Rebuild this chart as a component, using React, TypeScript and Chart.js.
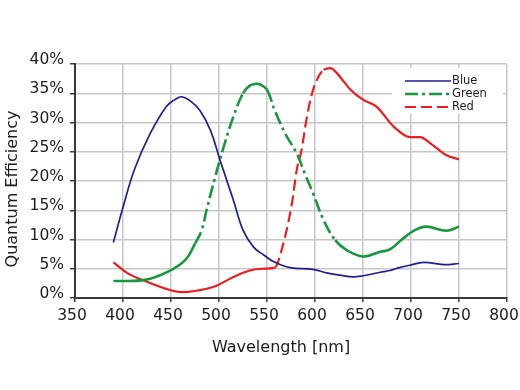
import React, { useEffect, useRef } from "react";
import { Chart, registerables } from "chart.js";

Chart.register(...registerables);

// Wavelength [nm] and quantum efficiency [%] per channel
const blueNm = [390, 400, 412, 428, 445, 455, 461, 470, 480, 491, 501, 515, 525, 536, 547, 557, 574, 598, 612, 626, 640, 650, 668, 678, 688, 699, 713, 734, 750];
const blueQe = [9.5, 15.5, 22, 28, 32.7, 34.0, 34.4, 33.7, 32.1, 28.7, 23.6, 16.7, 11.6, 8.7, 7.3, 6.2, 5.2, 4.9, 4.3, 3.9, 3.6, 3.8, 4.4, 4.7, 5.2, 5.6, 6.1, 5.7, 5.9];

const greenNm = [390, 423, 447, 465, 475, 482, 487, 496, 505, 515, 525, 532, 538, 543, 550, 558, 569, 581, 590, 598, 609, 621, 633, 650, 668, 678, 692, 704, 716, 737, 750];
const greenQe = [2.9, 3.1, 4.5, 6.5, 9.3, 11.6, 15.0, 20.7, 25.9, 31.0, 35.0, 36.3, 36.6, 36.5, 35.6, 32.1, 28.1, 24.7, 21.0, 17.9, 13.3, 9.9, 8.2, 7.1, 7.9, 8.3, 10.2, 11.6, 12.2, 11.5, 12.2];

const redNm = [390, 405, 423, 444, 461, 475, 496, 515, 532, 545, 558, 567, 576, 581, 586, 591, 596, 602, 609, 616, 623, 630, 637, 650, 664, 682, 699, 709, 723, 737, 750];
const redQe = [6.1, 4.2, 2.9, 1.6, 1.0, 1.2, 2.0, 3.6, 4.7, 5.0, 5.2, 9.3, 16.2, 21.9, 25.3, 30.4, 34.4, 37.3, 39.0, 39.3, 38.4, 37.0, 35.6, 33.9, 32.7, 29.3, 27.5, 27.5, 26.1, 24.4, 23.7];

const seriesLabels = ["Blue", "Green", "Red"];
const xTitle = "Wavelength [nm]";
const yTitle = "Quantum Efficiency";

// ranges (nm) in which the dashed curves are drawn dashed
const greenDashRanges = [[475, 525], [550, 621]];
const redDashRanges = [[558, 609]];

const FONT = "'DejaVu Sans', Verdana, sans-serif";
const TEXT = "#1c1c1c";

const toPts = (xs: number[], ys: number[]) => xs.map((x, i) => ({ x, y: ys[i] }));

const overlay = {
  id: "overlay",
  afterDatasetsDraw(chart: any) {
    const ctx = chart.ctx as CanvasRenderingContext2D;
    const a = chart.chartArea;
    ctx.save();
    // legend box inside the plot, top right
    const lx = a.right - 115;
    const ly = a.top + 4;
    ctx.fillStyle = "#ffffff";
    ctx.fillRect(lx, ly, 111, 46);
    chart.data.datasets.forEach((ds: any, i: number) => {
      const y = ly + 13 + i * 13;
      ctx.strokeStyle = ds.borderColor;
      ctx.lineWidth = ds.borderWidth;
      ctx.setLineDash(ds.borderDash || []);
      ctx.beginPath();
      ctx.moveTo(lx + 13, y);
      ctx.lineTo(lx + 59, y);
      ctx.stroke();
      ctx.setLineDash([]);
      ctx.fillStyle = TEXT;
      ctx.font = `11.5px ${FONT}`;
      ctx.textBaseline = "middle";
      ctx.textAlign = "left";
      ctx.fillText(ds.label, lx + 60, y + 0.5);
    });
    // axis titles
    ctx.fillStyle = TEXT;
    ctx.font = `16px ${FONT}`;
    ctx.textAlign = "center";
    ctx.textBaseline = "alphabetic";
    ctx.fillText(xTitle, a.left + (a.right - a.left) * 0.477, a.bottom + 54);
    ctx.save();
    ctx.translate(17, (a.top + a.bottom) / 2 + 8);
    ctx.rotate(-Math.PI / 2);
    ctx.fillText(yTitle, 0, 0);
    ctx.restore();
    ctx.restore();
  },
};

export default function App() {
  const ref = useRef<HTMLCanvasElement>(null);

  useEffect(() => {
    const inRanges = (rs: number[][]) => (c: any) =>
      rs.some((r) => c.p0.parsed.x >= r[0] && c.p0.parsed.x < r[1]) ? undefined : [];
    const grid = {
      color: "#c6c6cb",
      lineWidth: 1.5,
      tickColor: "#3a3a3a",
      tickWidth: 1.5,
      tickLength: 4,
    };
    const border = { color: "#3a3a3a", width: 2 };
    const chart = new Chart(ref.current!, {
      type: "line",
      data: {
        datasets: [
          {
            label: seriesLabels[0],
            data: toPts(blueNm, blueQe),
            borderColor: "#1e1e98",
            borderWidth: 1.7,
            pointRadius: 0,
            fill: false,
            tension: 0.4,
          },
          {
            label: seriesLabels[1],
            data: toPts(greenNm, greenQe),
            borderColor: "#16993a",
            borderWidth: 2.6,
            borderDash: [13, 4, 3, 4],
            pointRadius: 0,
            fill: false,
            tension: 0.4,
            segment: { borderDash: inRanges(greenDashRanges) },
          },
          {
            label: seriesLabels[2],
            data: toPts(redNm, redQe),
            borderColor: "#ee1c1c",
            borderWidth: 2.2,
            borderDash: [11, 5],
            pointRadius: 0,
            fill: false,
            cubicInterpolationMode: "monotone",
            segment: { borderDash: inRanges(redDashRanges) },
          },
        ],
      },
      options: {
        animation: false,
        responsive: true,
        maintainAspectRatio: false,
        layout: { padding: { left: 0, right: 13, top: 64, bottom: 0 } },
        plugins: { legend: { display: false }, tooltip: { enabled: false } },
        scales: {
          x: {
            type: "linear",
            min: 350,
            max: 800,
            ticks: {
              stepSize: 50,
              font: { family: FONT, size: 15.5 },
              color: TEXT,
              padding: 5,
              labelOffset: -3,
              maxRotation: 0,
              autoSkip: false,
            },
            grid,
            border,
            afterFit: (s: any) => {
              s.height = 92;
              s.paddingLeft = 0;
              s.paddingRight = 0;
            },
          },
          y: {
            type: "linear",
            min: 0,
            max: 40,
            ticks: {
              stepSize: 5,
              callback: (v: any) => v + "%",
              font: { family: FONT, size: 15.5 },
              color: TEXT,
              padding: 6,
              labelOffset: -4,
            },
            grid: { ...grid, tickLength: 5 },
            border,
            afterFit: (s: any) => {
              s.width = 75;
              s.paddingTop = 0;
              s.paddingBottom = 0;
            },
          },
        },
      },
      plugins: [overlay],
    } as any);
    return () => chart.destroy();
  }, []);

  return (
    <div style={{ position: "absolute", left: 0, top: 0, width: 520, height: 390 }}>
      <canvas ref={ref} />
    </div>
  );
}
